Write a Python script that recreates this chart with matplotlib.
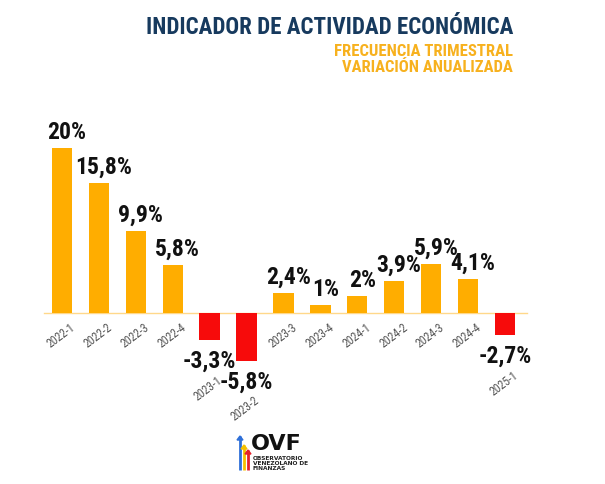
import numpy as np
import matplotlib.pyplot as plt

plt.rcParams["font.family"] = ["Roboto Condensed", "DejaVu Sans"]

# Data
periods = ["2022-1", "2022-2", "2022-3", "2022-4", "2023-1", "2023-2", "2023-3",
           "2023-4", "2024-1", "2024-2", "2024-3", "2024-4", "2025-1"]
values = [20, 15.8, 9.9, 5.8, -3.3, -5.8, 2.4, 1, 2, 3.9, 5.9, 4.1, -2.7]
labels = ["20%", "15,8%", "9,9%", "5,8%", "-3,3%", "-5,8%", "2,4%",
          "1%", "2%", "3,9%", "5,9%", "4,1%", "-2,7%"]

ORANGE = "#FFAD00"
RED = "#F70B0B"
NAVY = "#173A5E"
GOLD = "#F7B11E"

W, H = 605, 484
fig = plt.figure(figsize=(W / 100, H / 100), dpi=100)
ax = fig.add_axes([30 / W, 64 / H, 510 / W, 320 / H])

x = np.arange(len(values))
colors = [ORANGE if v >= 0 else RED for v in values]
ax.bar(x, values, width=0.55, color=colors, zorder=2)
ax.plot([-0.49, 12.6], [0, 0], color="#FFD88A", lw=1, zorder=1)

for i, (v, lab, per) in enumerate(zip(values, labels, periods)):
    if v >= 0:
        ax.annotate(lab, (i, v), xytext=(3.5, 3), textcoords="offset points",
                    ha="center", va="bottom", fontsize=17, fontweight="bold",
                    color="#111111")
        ax.annotate(per, (i + 0.22, 0), xytext=(0, -6), textcoords="offset points",
                    ha="right", va="top", rotation=37, rotation_mode="anchor",
                    fontsize=8.5, color="#555555")
    else:
        ax.annotate(lab, (i, v), xytext=(0, -7), textcoords="offset points",
                    ha="center", va="top", fontsize=17, fontweight="bold",
                    color="#111111")
        ax.annotate(per, (i + 0.2, v), xytext=(0, -24), textcoords="offset points",
                    ha="right", va="top", rotation=37, rotation_mode="anchor",
                    fontsize=8.5, color="#555555")

ax.set_xlim(-0.867, 12.95)
ax.set_ylim(-12.97, 25.8)
ax.axis("off")

# Titles
fig.text(513 / W, 1 - 27 / H, "INDICADOR DE ACTIVIDAD ECONÓMICA", ha="right",
         va="center", fontsize=16.6, fontweight="bold", color=NAVY)
fig.text(513 / W, 1 - 51 / H, "FRECUENCIA TRIMESTRAL", ha="right", va="center",
         fontsize=12, fontweight="bold", color=GOLD)
fig.text(513 / W, 1 - 67 / H, "VARIACIÓN ANUALIZADA", ha="right", va="center",
         fontsize=12, fontweight="bold", color=GOLD)

# Logo
for xp, top, c in [(240, 436, "#2E6FD8"), (244, 445, "#F5C000"), (248, 450, "#E5212A")]:
    fig.patches.append(plt.Polygon([[xp / W, 1 - 470 / H], [xp / W, 1 - top / H]],
                                   closed=False, transform=fig.transFigure,
                                   edgecolor=c, lw=2, fill=False))
    fig.patches.append(plt.Polygon([[(xp - 3) / W, 1 - (top + 4) / H],
                                    [xp / W, 1 - top / H],
                                    [(xp + 3) / W, 1 - (top + 4) / H]],
                                   closed=True, transform=fig.transFigure,
                                   facecolor=c, edgecolor=c))
fig.text(251 / W, 1 - 450 / H, "OVF", ha="left", va="baseline", fontsize=16,
         fontweight="bold", color="#111111", family=["DejaVu Sans"])
fig.text(253 / W, 1 - 456 / H, "OBSERVATORIO\nVENEZOLANO DE\nFINANZAS", ha="left",
         va="top", fontsize=4.2, fontweight="bold", color="#222222",
         linespacing=0.95, family=["DejaVu Sans"])

fig.savefig("out.png", dpi=100, facecolor="white")
